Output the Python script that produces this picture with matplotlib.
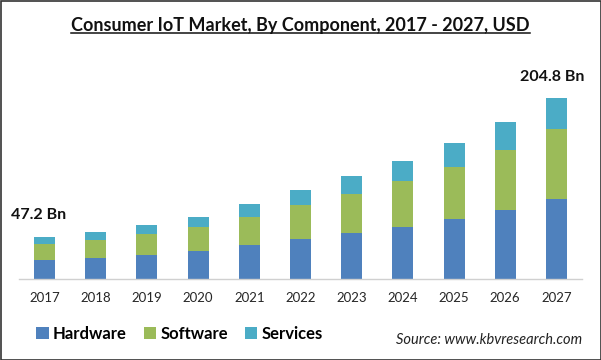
import matplotlib
matplotlib.use("Agg")
import matplotlib.pyplot as plt
from matplotlib.patches import Rectangle, Patch
from matplotlib.lines import Line2D

years = ["2017", "2018", "2019", "2020", "2021", "2022", "2023", "2024", "2025", "2026", "2027"]
hardware = [21.5, 24.1, 27.1, 31.6, 38.4, 45.2, 52.0, 59.1, 68.1, 78.3, 90.7]
software = [18.4, 20.0, 23.7, 27.1, 32.0, 38.4, 44.1, 51.6, 58.4, 67.4, 78.7]
services = [7.3, 9.0, 10.5, 11.3, 14.3, 17.3, 20.3, 22.6, 27.4, 31.6, 35.4]
series_names = ["Hardware", "Software", "Services"]
colors = ["#4F81BD", "#9BBB59", "#4BACC6"]
end_labels = ["47.2 Bn", "204.8 Bn"]

plt.rcParams['font.family'] = ['Lato', 'DejaVu Sans']

W, H = 601, 360
fig = plt.figure(figsize=(W / 100, H / 100), dpi=100)
fig.patch.set_facecolor("white")

ax = fig.add_axes([19 / W, (H - 279) / H, 563 / W, 219 / H])
x = list(range(len(years)))
bw = 0.41
ax.bar(x, hardware, width=bw, color=colors[0])
ax.bar(x, software, width=bw, bottom=hardware, color=colors[1])
bottom2 = [h + s for h, s in zip(hardware, software)]
ax.bar(x, services, width=bw, bottom=bottom2, color=colors[2])
totals = [b + v for b, v in zip(bottom2, services)]

ax.set_xlim(-0.5, len(years) - 0.5)
ax.set_ylim(0, 247.4)
ax.set_xticks(x)
ax.set_xticklabels(years, fontsize=9.5, color="#262626")
ax.tick_params(axis="x", length=0, pad=9)
ax.set_yticks([])
for s in ["top", "right", "left"]:
    ax.spines[s].set_visible(False)
ax.spines["bottom"].set_color("#d0d0d0")
ax.spines["bottom"].set_linewidth(1)

ax.annotate(end_labels[0], xy=(0, totals[0]), xytext=(-4, 11), textcoords="offset points",
            ha="center", va="bottom", fontsize=11.5, fontweight="bold", color="#111111")
ax.annotate(end_labels[1], xy=(len(years) - 1, totals[-1]), xytext=(-3, 10), textcoords="offset points",
            ha="center", va="bottom", fontsize=11.5, fontweight="bold", color="#111111")

title = fig.text(0.5, 1 - 26 / H, "Consumer IoT Market, By Component, 2017 - 2027, USD",
                 ha="center", va="center", fontsize=13, fontweight="bold", color="#111111")

handles = [Patch(facecolor=c, edgecolor="none") for c in colors]
leg = fig.legend(handles, series_names, loc="center left", bbox_to_anchor=(33 / W, 1 - 334 / H),
                 ncol=3, frameon=False, handlelength=0.75, handleheight=0.75, handletextpad=0.25,
                 columnspacing=1.0, borderpad=0.2, borderaxespad=0,
                 prop={"weight": "bold", "size": 12})

fig.text(582 / W, 1 - 340 / H, "Source: www.kbvresearch.com", ha="right", va="center",
         fontsize=10.5, style="italic", color="#222222")

# border
fig.patches.append(Rectangle((0.5 / W, 0.5 / H), (W - 1) / W, (H - 1) / H, transform=fig.transFigure,
                             fill=False, edgecolor="#333333", linewidth=1.2))

# underline for title
fig.canvas.draw()
bb = title.get_window_extent()
inv = fig.transFigure.inverted()
(x0, y0), (x1, y1) = inv.transform([(bb.x0, bb.y0 + 1.5), (bb.x1, bb.y0 + 1.5)])
fig.lines.append(Line2D([x0, x1], [y0, y1], transform=fig.transFigure,
                        color="#111111", linewidth=1.1))

fig.savefig("out.png", dpi=100)
